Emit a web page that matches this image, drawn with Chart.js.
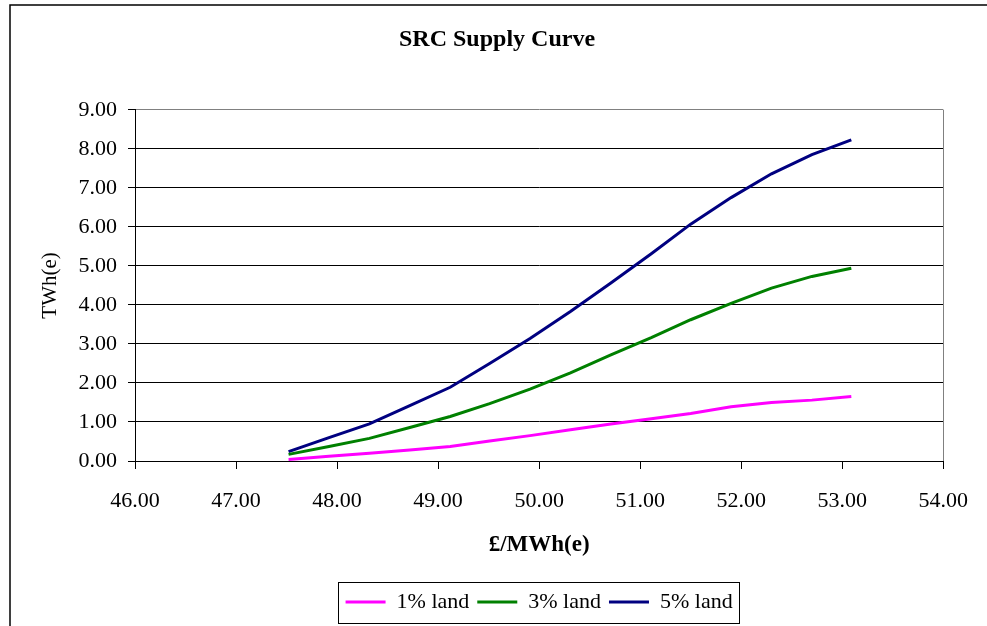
<!DOCTYPE html>
<html>
<head>
<meta charset="utf-8">
<title>SRC Supply Curve</title>
<script src="https://cdn.jsdelivr.net/npm/chart.js@4.4.1/dist/chart.umd.min.js"></script>
<style>
  html, body { margin: 0; padding: 0; background: #fff; }
  #chart { display: block; }
</style>
</head>
<body>
<canvas id="chart" width="987" height="626"></canvas>
<script>
// £/MWh(e) for each point on the curve
const prices = [47.52, 47.92, 48.32, 48.72, 49.12, 49.51, 49.91, 50.31, 50.71, 51.11, 51.50, 51.90, 52.30, 52.70, 53.09];
// TWh(e) supplied
const land1 = [0.04, 0.12, 0.20, 0.28, 0.37, 0.51, 0.65, 0.80, 0.95, 1.08, 1.22, 1.39, 1.50, 1.56, 1.65];
const land3 = [0.17, 0.37, 0.58, 0.86, 1.14, 1.47, 1.84, 2.26, 2.72, 3.16, 3.62, 4.04, 4.43, 4.73, 4.94];
const land5 = [0.24, 0.60, 0.95, 1.42, 1.89, 2.50, 3.14, 3.83, 4.56, 5.31, 6.07, 6.75, 7.36, 7.85, 8.23];
const seriesLabels = ['1% land', '3% land', '5% land'];

const toPoints = ys => ys.map((y, i) => ({ x: prices[i], y: y }));
const serif = 'Liberation Serif, Times New Roman, serif';

Chart.defaults.color = '#000';
Chart.defaults.font.family = serif;

// outer frame, right edge of plot area and legend box
const framePlugin = {
    id: 'frame',
    beforeDraw(chart) {
        const ctx = chart.ctx;
        ctx.save();
        ctx.strokeStyle = '#000';
        ctx.lineWidth = 1.5;
        ctx.beginPath();
        ctx.moveTo(10, 626);
        ctx.lineTo(10, 5);
        ctx.lineTo(987, 5);
        ctx.stroke();
        ctx.restore();
    },
    afterDraw(chart) {
        const ctx = chart.ctx;
        const area = chart.chartArea;
        ctx.save();
        ctx.strokeStyle = '#808080';
        ctx.lineWidth = 1;
        ctx.beginPath();
        ctx.moveTo(Math.round(area.right) + 0.5, area.top);
        ctx.lineTo(Math.round(area.right) + 0.5, area.bottom);
        ctx.stroke();

        const boxes = chart.legend.legendHitBoxes;
        if (boxes && boxes.length) {
            const first = boxes[0];
            const last = boxes[boxes.length - 1];
            const l = Math.round(first.left - 8) + 0.5;
            const r = Math.round(last.left + last.width + 6) + 0.5;
            const t = Math.round(first.top - 9) + 0.5;
            const b = Math.round(first.top + first.height + 10) + 0.5;
            ctx.strokeStyle = '#000';
            ctx.strokeRect(l, t, r - l, b - t);
        }
        ctx.restore();
    }
};

new Chart(document.getElementById('chart'), {
    type: 'line',
    data: {
        datasets: [
            { label: seriesLabels[0], data: toPoints(land1), borderColor: '#FF00FF', backgroundColor: '#FF00FF' },
            { label: seriesLabels[1], data: toPoints(land3), borderColor: '#008000', backgroundColor: '#008000' },
            { label: seriesLabels[2], data: toPoints(land5), borderColor: '#000080', backgroundColor: '#000080' }
        ]
    },
    options: {
        responsive: false,
        animation: false,
        borderWidth: 3,
        elements: {
            line: { borderWidth: 3, tension: 0, fill: false },
            point: { radius: 0, hoverRadius: 0 }
        },
        layout: { padding: { left: 49, right: 42, top: 0, bottom: 3 } },
        plugins: {
            title: {
                display: true,
                text: 'SRC Supply Curve',
                font: { size: 24, weight: 'bold', family: serif },
                padding: { top: 25, bottom: 56 }
            },
            legend: {
                position: 'bottom',
                fullSize: false,
                labels: {
                    usePointStyle: true,
                    pointStyle: 'line',
                    pointStyleWidth: 40,
                    padding: 8,
                    font: { size: 22, family: serif }
                }
            },
            tooltip: { enabled: false }
        },
        scales: {
            x: {
                type: 'linear',
                min: 46,
                max: 54,
                afterFit: scale => { scale.height = 122; },
                ticks: {
                    stepSize: 1,
                    padding: 19,
                    font: { size: 22, family: serif },
                    callback: v => Number(v).toFixed(2)
                },
                grid: { drawOnChartArea: false, drawTicks: true, tickLength: 8, color: '#000' },
                border: { display: true, color: '#000', width: 1 },
                title: {
                    display: true,
                    text: '£/MWh(e)',
                    font: { size: 23, weight: 'bold', family: serif },
                    padding: { top: 0, bottom: 24 }
                }
            },
            y: {
                min: 0,
                max: 9,
                afterFit: scale => { scale.width = 86; },
                ticks: {
                    stepSize: 1,
                    padding: 11,
                    font: { size: 22, family: serif },
                    callback: v => Number(v).toFixed(2)
                },
                grid: {
                    tickLength: 7,
                    tickColor: '#000',
                    color: c => (c.tick && c.tick.value === 9 ? '#808080' : '#000')
                },
                border: { display: true, color: '#000', width: 1 },
                title: {
                    display: true,
                    text: 'TWh(e)',
                    font: { size: 21, family: serif },
                    padding: { top: -11.6, bottom: 0 }
                }
            }
        }
    },
    plugins: [framePlugin]
});
</script>
</body>
</html>
